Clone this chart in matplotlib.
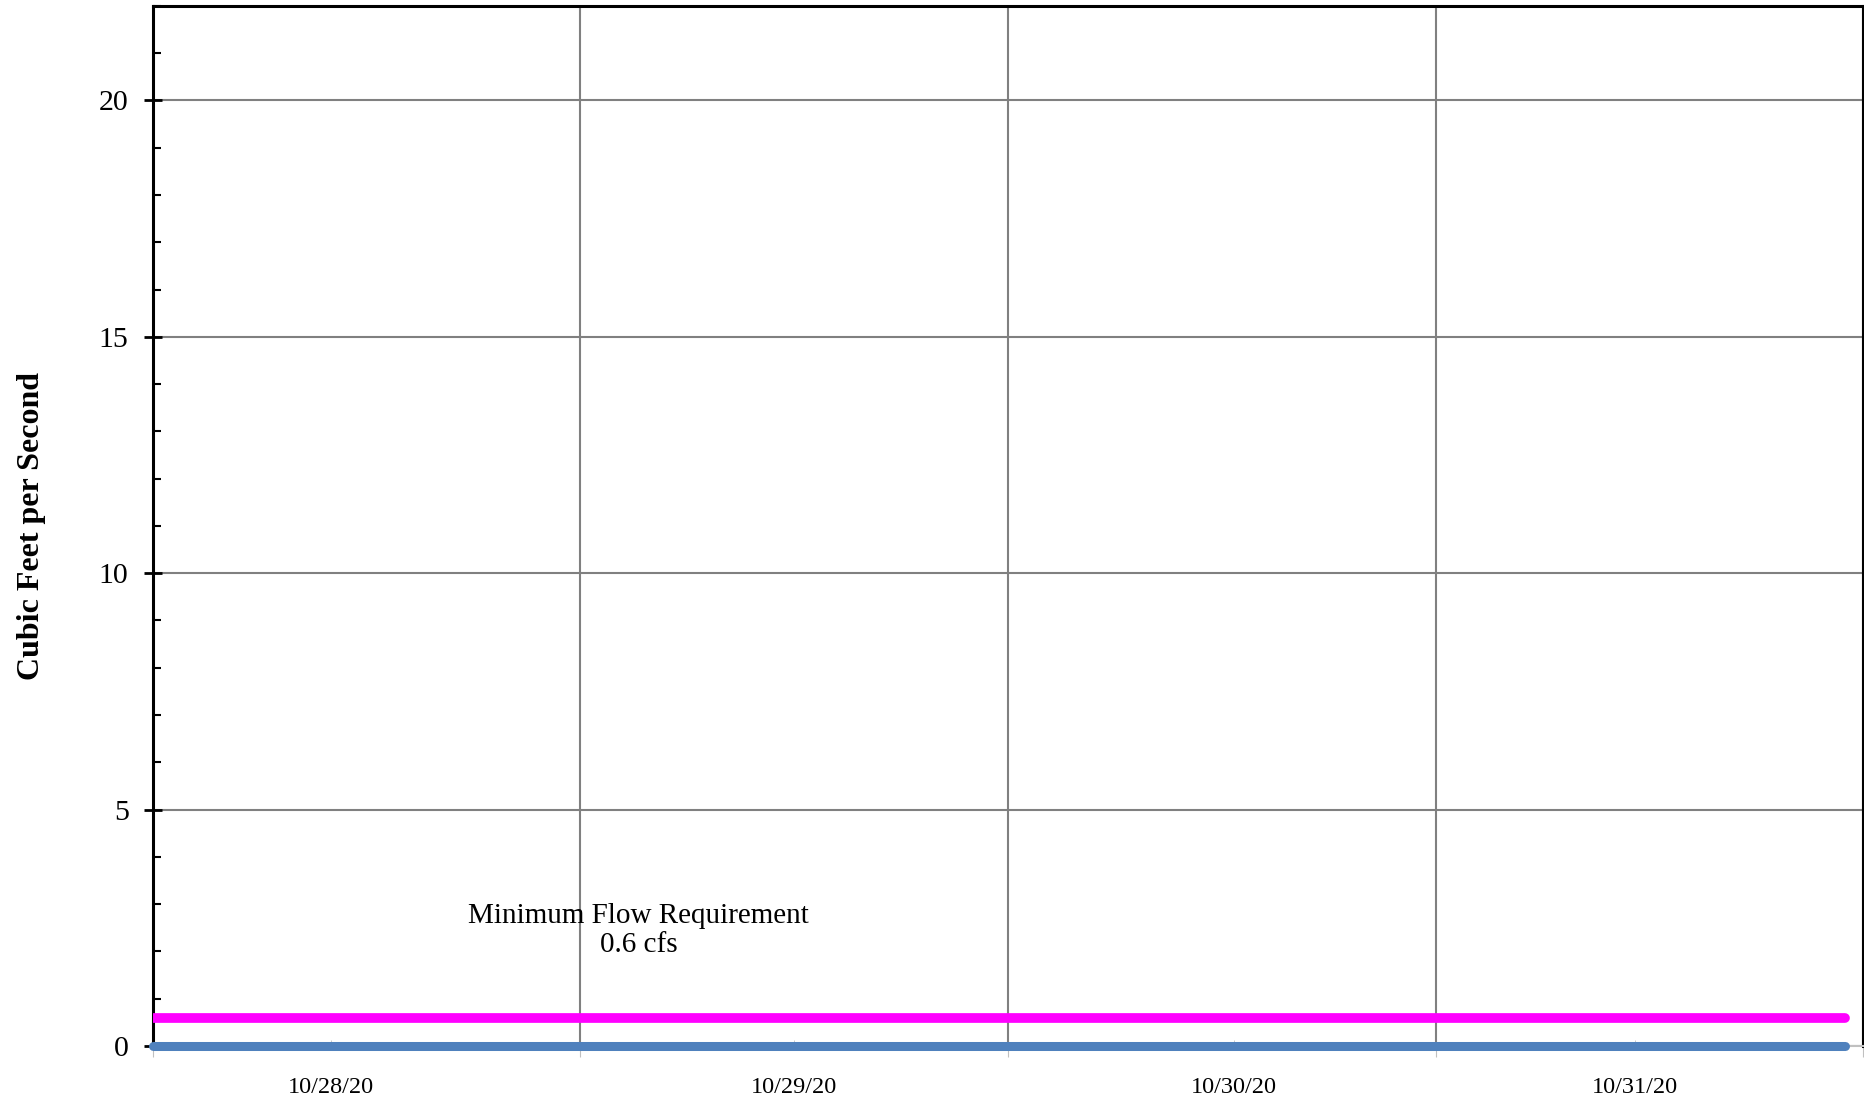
import numpy as np
import pandas as pd
import matplotlib
matplotlib.use("Agg")
import matplotlib.pyplot as plt
import matplotlib.dates as mdates

# flow record (all zero for the period)
flow_times = ["2020-10-28 00:00", "2020-10-29 00:00", "2020-10-30 00:00",
              "2020-10-31 00:00", "2020-10-31 23:00"]
flow_cfs = [0.0, 0.0, 0.0, 0.0, 0.0]

# minimum flow requirement
mfr_times = ["2020-10-28 00:00", "2020-10-31 23:00"]
mfr_cfs = [0.6, 0.6]

day_labels = ["10/28/20", "10/29/20", "10/30/20", "10/31/20"]
# where Excel put the day labels
label_times = ["2020-10-28 10:00", "2020-10-29 12:00",
               "2020-10-30 12:40", "2020-10-31 11:10"]

flow_t = pd.to_datetime(flow_times)
mfr_t = pd.to_datetime(mfr_times)
label_t = pd.to_datetime(label_times)

plt.rcParams["font.family"] = ["Liberation Serif", "DejaVu Serif"]

fig = plt.figure(figsize=(18.65, 11.03), dpi=100)
ax = fig.add_axes([0.082, 0.0517, 0.917, 0.943])

ax.plot(flow_t, flow_cfs, color="#4f81bd", lw=6.5, solid_capstyle="round",
        zorder=4, clip_on=False)
ax.plot(mfr_t, mfr_cfs, color="#ff00ff", lw=7, solid_capstyle="round", zorder=4)

ax.set_xlim(pd.Timestamp("2020-10-28 00:00"), pd.Timestamp("2020-11-01 00:00"))
ax.set_ylim(0, 22)

# x axis: gridlines at midnight, day labels in between
ax.xaxis.set_major_locator(mdates.DayLocator())
ax.xaxis.set_major_formatter(plt.NullFormatter())
ax.set_xticks(label_t, minor=True)
ax.set_xticklabels(day_labels, minor=True)
ax.tick_params(axis="x", which="major", length=8, color="#c0c0c0", direction="out")
ax.tick_params(axis="x", which="minor", length=4, color="#c0c0c0", direction="in",
               labelsize=17.5, pad=22)

# y axis
ax.set_yticks([0, 5, 10, 15, 20])
ax.set_yticks(np.arange(0, 23, 1), minor=True)
ax.tick_params(axis="y", which="major", length=13, width=2, direction="inout",
               labelsize=21.5, pad=11)
ax.tick_params(axis="y", which="minor", length=6, width=1.5, direction="in")

ax.grid(True, which="major", color="#808080", lw=1.5)
ax.set_axisbelow(True)

for s in ["left", "top", "right"]:
    ax.spines[s].set_linewidth(2.2)
    ax.spines[s].set_color("black")
ax.spines["bottom"].set_color("#c0c0c0")
ax.spines["bottom"].set_linewidth(1.5)

ax.set_ylabel("Cubic Feet per Second", fontsize=23, fontweight="bold", labelpad=38)

ax.text(pd.Timestamp("2020-10-29 03:15"), 2.45, "Minimum Flow Requirement\n0.6 cfs",
        ha="center", va="center", fontsize=21, linespacing=1.15)

fig.savefig("out.png", dpi=100)
